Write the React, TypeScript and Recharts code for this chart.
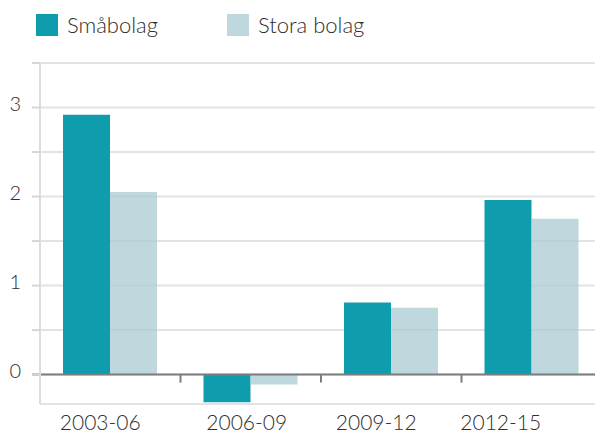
import React from 'react';
import { BarChart, Bar, XAxis, YAxis, CartesianGrid, ReferenceLine } from 'recharts';

const categories = ['2003-06', '2006-09', '2009-12', '2012-15'];
const smallCompanies = [2.92, -0.31, 0.81, 1.96];
const largeCompanies = [2.05, -0.11, 0.75, 1.75];
const yTicks = [0, 0.5, 1, 1.5, 2, 2.5, 3, 3.5];

const data = categories.map((period, i) => ({
  period,
  small: smallCompanies[i],
  large: largeCompanies[i],
}));

const FONT = 'Lato, "Noto Sans", sans-serif';
const TEXT = '#2e2e2e';
const DARK = '#0f9cad';
const LIGHT = '#a9cbd3';
const AXIS = '#7d7d7d';

// the original labels sit a bit left of their category centres
const labelShift = [-10, -4, -15, -31];

const XTick = (props: any) => {
  const { x, y, payload, index } = props;
  return (
    <text x={x + labelShift[index]} y={y} dy={18} textAnchor="middle" fill={TEXT} fontSize={21} fontWeight={300} fontFamily={FONT}>
      {payload.value}
    </text>
  );
};

const YTick = (props: any) => {
  const { x, y, payload } = props;
  if (!Number.isInteger(payload.value)) return <g />;
  return (
    <text x={x} y={y} dy={3} textAnchor="end" fill={TEXT} fontSize={20} fontWeight={300} fontFamily={FONT}>
      {payload.value}
    </text>
  );
};

const ZeroLine = (props: any) => {
  const { x1, x2, y1 } = props;
  const step = (x2 - x1) / categories.length;
  return (
    <g>
      <line x1={x1 - 8} x2={x2} y1={y1} y2={y1} stroke={AXIS} strokeWidth={2} />
      {categories.map((c, i) => (
        <line key={c} x1={x1 + i * step} x2={x1 + i * step} y1={y1} y2={y1 + 8} stroke={AXIS} strokeWidth={2} />
      ))}
    </g>
  );
};

const LegendItem = ({ color, label, left }: { color: string; label: string; left: number }) => (
  <div style={{ position: 'absolute', left, top: 14, display: 'flex', alignItems: 'center' }}>
    <div style={{ width: 22, height: 22, background: color }} />
    <span style={{ marginLeft: 9, fontSize: 22, fontWeight: 300, color: TEXT, fontFamily: FONT, lineHeight: '22px' }}>{label}</span>
  </div>
);

export default function App() {
  return (
    <div style={{ position: 'absolute', left: 0, top: 0, width: 595, height: 433, overflow: 'hidden', background: '#fff' }}>
      <LegendItem color={DARK} label="Småbolag" left={36} />
      <LegendItem color="#bed8de" label="Stora bolag" left={227} />
      <BarChart
        width={602}
        height={433}
        data={data}
        margin={{ top: 63, right: 0, bottom: 0, left: 0 }}
        barGap={0}
        barSize={47}
      >
        <CartesianGrid vertical={false} stroke="#e3e3e3" strokeWidth={2} />
        <XAxis dataKey="period" axisLine={false} tickLine={false} height={29} tick={<XTick />} interval={0} />
        <YAxis
          width={40}
          domain={[-0.33, 3.5]}
          ticks={yTicks}
          allowDataOverflow
          axisLine={{ stroke: '#dddddd', strokeWidth: 2 }}
          tickLine={{ stroke: '#d6d6d6', strokeWidth: 2 }}
          tickSize={8}
          tickMargin={11}
          tick={<YTick />}
          interval={0}
        />
        <Bar dataKey="small" name="Småbolag" fill={DARK} isAnimationActive={false} />
        <Bar dataKey="large" name="Stora bolag" fill={LIGHT} fillOpacity={0.75} isAnimationActive={false} />
        <ReferenceLine y={0} shape={<ZeroLine />} />
      </BarChart>
    </div>
  );
}
